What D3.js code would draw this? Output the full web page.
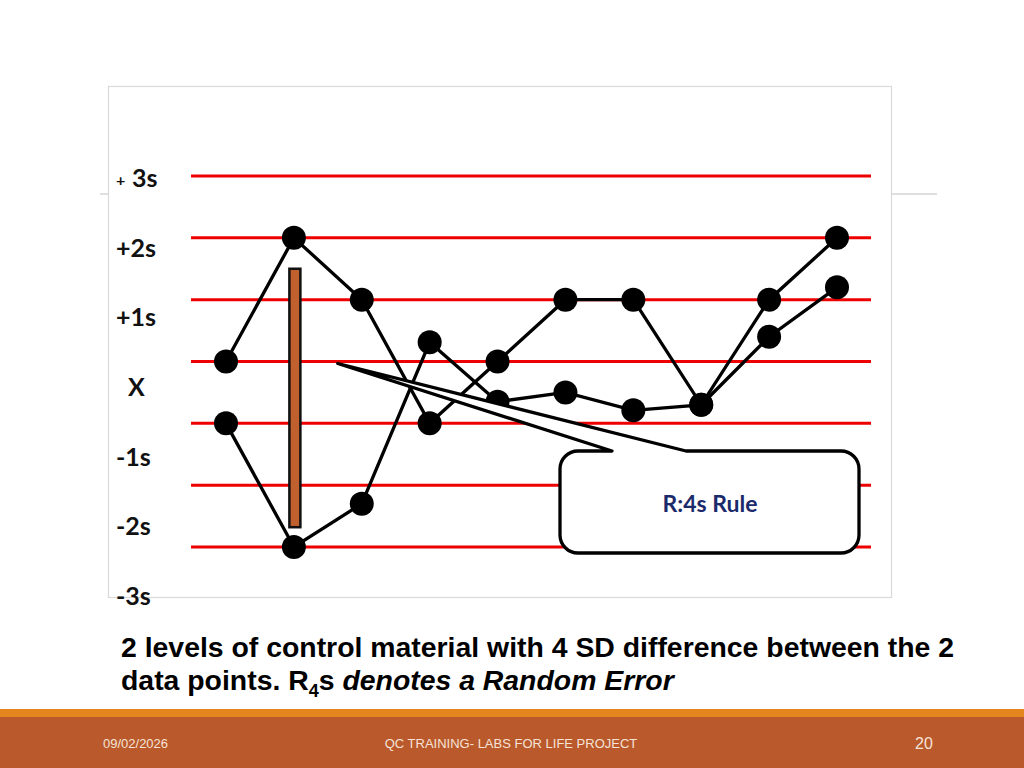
<!DOCTYPE html>
<html>
<head>
<meta charset="utf-8">
<title>R4s rule</title>
<script src="https://cdn.jsdelivr.net/npm/d3@7"></script>
<style>
  html, body { margin: 0; padding: 0; background: #fff; }
  svg { display: block; }
</style>
</head>
<body>
<svg width="1024" height="768"></svg>
<script>
// runs 1..10, values in SD units
var runs = [1, 2, 3, 4, 5, 6, 7, 8, 9, 10];
var level1 = [0, 2, 1, -1, 0, 1, 1, -0.7, 1, 2];
var level2 = [-1, -3, -2.3, 0.31, -0.65, -0.5, -0.79, -0.7, 0.4, 1.2];
var sdLines = [3, 2, 1, 0, -1, -2, -3];
var sdLabels = ['3s', '+2s', '+1s', 'X', '-1s', '-2s', '-3s'];
// the brown range bar at run 2
var barRun = 2;
var barRange = [1.5, -2.68];

var svg = d3.select('svg');

var x = d3.scalePoint().domain(runs).range([226, 837]);
var y = d3.scaleLinear().domain([-3, 3]).range([547, 176]);
// labels on the slide are spaced a little wider than the lines
var yLabel = d3.scaleLinear().domain([-3, 3]).range([604, 186]);

// slide title rule, behind the chart box
svg.append('line')
  .attr('x1', 100).attr('x2', 937).attr('y1', 194).attr('y2', 194)
  .attr('stroke', '#c0c0c0').attr('stroke-width', 1.2);

// chart box
svg.append('rect')
  .attr('x', 108.5).attr('y', 86.5).attr('width', 783).attr('height', 511)
  .attr('fill', '#fff').attr('stroke', '#d9d9d9').attr('stroke-width', 1.2);

// SD lines
svg.append('g').selectAll('line')
  .data(sdLines)
  .enter()
  .append('line')
  .attr('x1', 191).attr('x2', 871)
  .attr('y1', function(d) { return y(d); })
  .attr('y2', function(d) { return y(d); })
  .attr('stroke', '#ee0000').attr('stroke-width', 3);

// labels
var lab = svg.append('g')
  .style('font-family', 'Lato, "Open Sans", sans-serif')
  .style('font-weight', 'bold')
  .style('font-size', '25px')
  .attr('fill', '#111');

lab.selectAll('text')
  .data(sdLabels)
  .enter()
  .append('text')
  .attr('x', function(d) { return d === 'X' ? 128 : (d === '3s' ? 132 : 116); })
  .attr('y', function(d, i) { return yLabel(sdLines[i]) + 1; })
  .text(function(d) { return d; });

lab.append('text')
  .attr('x', 116).attr('y', yLabel(3))
  .style('font-size', '16px')
  .text('+');

// range bar
svg.append('rect')
  .attr('x', x(barRun) - 4.5)
  .attr('y', y(barRange[0]))
  .attr('width', 11)
  .attr('height', y(barRange[1]) - y(barRange[0]))
  .attr('fill', '#c0602f')
  .attr('stroke', '#111').attr('stroke-width', 2.5);

var line = d3.line()
  .x(function(d, i) { return x(runs[i]); })
  .y(function(d) { return y(d); });

[level1, level2].forEach(function(series) {
  svg.append('path')
    .datum(series)
    .attr('d', line)
    .attr('fill', 'none')
    .attr('stroke', '#000')
    .attr('stroke-width', 3.3);
});

[level1, level2].forEach(function(series) {
  svg.append('g').selectAll('circle')
    .data(series)
    .enter()
    .append('circle')
    .attr('cx', function(d, i) { return x(runs[i]); })
    .attr('cy', function(d) { return y(d); })
    .attr('r', 12)
    .attr('fill', '#000');
});

// callout
var bx0 = 560, bx1 = 859, by0 = 451, by1 = 553, r = 18;
var tip = [x(3) - 24, y(0) + 2];
var p = d3.path();
p.moveTo(tip[0], tip[1]);
p.lineTo(612, by0);
p.lineTo(bx0 + r, by0);
p.arcTo(bx0, by0, bx0, by0 + r, r);
p.lineTo(bx0, by1 - r);
p.arcTo(bx0, by1, bx0 + r, by1, r);
p.lineTo(bx1 - r, by1);
p.arcTo(bx1, by1, bx1, by1 - r, r);
p.lineTo(bx1, by0 + r);
p.arcTo(bx1, by0, bx1 - r, by0, r);
p.lineTo(686, by0);
p.closePath();

svg.append('path')
  .attr('d', p.toString())
  .attr('fill', '#fff')
  .attr('stroke', '#000')
  .attr('stroke-width', 3.3)
  .attr('stroke-linejoin', 'round');

svg.append('text')
  .attr('x', 710).attr('y', 512)
  .attr('text-anchor', 'middle')
  .style('font-family', 'Lato, "Open Sans", sans-serif')
  .style('font-weight', 'bold')
  .style('font-size', '23px')
  .attr('fill', '#1b2a6b')
  .text('R:4s Rule');

// caption
var cap = svg.append('g')
  .style('font-family', '"Liberation Sans", Arial, sans-serif')
  .style('font-weight', 'bold')
  .style('font-size', '28.4px')
  .attr('fill', '#000');

cap.append('text').attr('x', 121).attr('y', 657)
  .text('2 levels of control material with 4 SD difference between the 2');

var t2 = cap.append('text').attr('x', 121).attr('y', 690);
t2.append('tspan').text('data points. R');
t2.append('tspan').attr('dy', 7).style('font-size', '18px').text('4');
t2.append('tspan').attr('dy', -7).text('s ');
t2.append('tspan').style('font-style', 'italic').text('denotes a Random Error');

// footer
svg.append('rect').attr('x', 0).attr('y', 709).attr('width', 1024).attr('height', 9)
  .attr('fill', '#e4861e');
svg.append('rect').attr('x', 0).attr('y', 717).attr('width', 1024).attr('height', 51)
  .attr('fill', '#b9592c');

var foot = svg.append('g')
  .style('font-family', '"Liberation Sans", Arial, sans-serif')
  .style('font-size', '13px')
  .attr('fill', '#f6e3d6');

foot.append('text').attr('x', 103).attr('y', 748).text('09/02/2026');
foot.append('text').attr('x', 511).attr('y', 748).attr('text-anchor', 'middle')
  .text('QC TRAINING- LABS FOR LIFE PROJECT');
foot.append('text').attr('x', 924).attr('y', 749).attr('text-anchor', 'middle')
  .style('font-size', '16px').text('20');
</script>
</body>
</html>
